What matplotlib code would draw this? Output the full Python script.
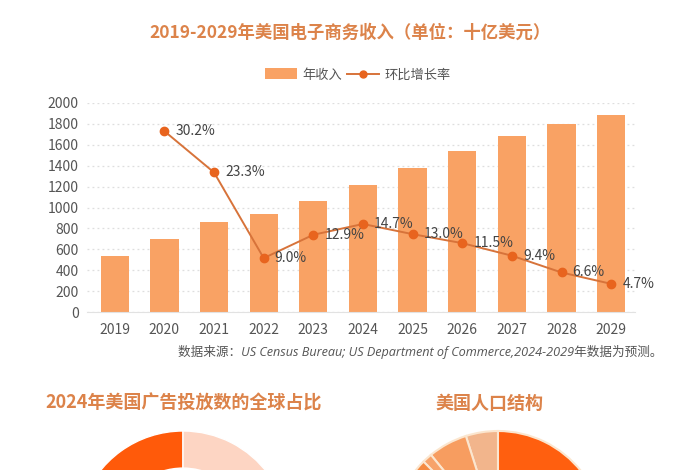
import matplotlib
matplotlib.use("Agg")
import matplotlib.pyplot as plt
from matplotlib.patches import Patch
from matplotlib.lines import Line2D

plt.rcParams['font.family'] = ['Noto Sans CJK SC', 'DejaVu Sans']

# ---- data ----
years = ['2019', '2020', '2021', '2022', '2023', '2024', '2025', '2026', '2027', '2028', '2029']
revenue = [535, 700, 865, 942, 1060, 1215, 1378, 1540, 1685, 1800, 1882]
growth_years = ['2020', '2021', '2022', '2023', '2024', '2025', '2026', '2027', '2028', '2029']
growth = [30.2, 23.3, 9.0, 12.9, 14.7, 13.0, 11.5, 9.4, 6.6, 4.7]
y_ticks = [0, 200, 400, 600, 800, 1000, 1200, 1400, 1600, 1800, 2000]

ad_labels = ['美国', '其他']
ad_share = [40, 60]
pop_labels = ['混血', '亚裔', '其他', '非裔', '西班牙裔', '白人']
pop_share = [4.9, 6.0, 1.5, 12.1, 17.7, 57.8]

# ---- style ----
BAR = '#F9A264'
LINE = '#D7733A'
MARK = '#E8641E'
TITLE = '#DC834A'
TXT = '#555555'

W, H = 700, 470
fig = plt.figure(figsize=(7, 4.7), dpi=100)
fig.patch.set_facecolor('white')

def fx(px):
    return px / W

def fy(py):
    return 1 - py / H

# main axes
left, right, top, bottom = 87, 635, 103, 312
ax = fig.add_axes([fx(left), fy(bottom), fx(right - left), (bottom - top) / H])
x = list(range(len(years)))
ax.bar(x, revenue, width=0.57, color=BAR, zorder=2)
ax.set_ylim(0, 2000)
ax.set_xlim(-0.56, 10.48)
ax.set_yticks(y_ticks)
ax.set_xticks(x)
ax.set_xticklabels(years)
ax.tick_params(axis='both', length=0, labelsize=10, colors=TXT)
ax.tick_params(axis='x', pad=8)
ax.tick_params(axis='y', pad=6)
for s in ['top', 'right', 'left']:
    ax.spines[s].set_visible(False)
ax.spines['bottom'].set_color('#e2e2e2')
ax.yaxis.grid(True, linestyle=(0, (1.5, 2.5)), color='#dedede', linewidth=0.9, zorder=0)
ax.set_axisbelow(True)

ax2 = ax.twinx()
gx = [years.index(g) for g in growth_years]
ax2.plot(gx, growth, color=LINE, linewidth=1.4, marker='o', markersize=6,
         markerfacecolor=MARK, markeredgecolor=MARK, zorder=3)
ax2.set_ylim(0, 2000 / 57.3)
ax2.set_yticks([])
for s in ax2.spines.values():
    s.set_visible(False)
for xi, g in zip(gx, growth):
    ax2.annotate(f'{g:.1f}%', (xi, g), xytext=(8, 0), textcoords='offset points',
                 ha='left', va='center', fontsize=10, color='#444444')

# title
fig.text(0.5, fy(33), '2019-2029年美国电子商务收入（单位：十亿美元）', ha='center', va='center',
         fontsize=12.5, color=TITLE, fontweight='bold')

# legend
handles = [Patch(facecolor=BAR, edgecolor='none'),
           Line2D([0], [0], color=LINE, marker='o', markersize=5, markerfacecolor=MARK,
                  markeredgecolor=MARK, linewidth=1.4)]
fig.legend(handles, ['年收入', '环比增长率'], loc='center', bbox_to_anchor=(fx(358), fy(75)),
           ncol=2, frameon=False, fontsize=9.5, handlelength=2.4, handleheight=0.9,
           columnspacing=0.4, handletextpad=0.4, labelcolor=TXT)

# source
fig.text(fx(662), fy(352), '数据来源：US Census Bureau; US Department of Commerce,2024-2029年数据为预测。',
         ha='right', va='center', fontsize=9.1, color='#555555', style='italic',
         family=['Open Sans', 'Noto Sans CJK SC', 'DejaVu Sans'])

# bottom titles
fig.text(fx(184), fy(403), '2024年美国广告投放数的全球占比', ha='center', va='center',
         fontsize=13, color=TITLE, fontweight='bold')
fig.text(fx(489), fy(403), '美国人口结构', ha='center', va='center',
         fontsize=13, color=TITLE, fontweight='bold')

R = 106
# left donut
cx, cy = 183, 431 + R
axp1 = fig.add_axes([fx(cx - R), fy(cy + R), 2 * R / W, 2 * R / H])
axp1.pie(ad_share, colors=['#FF5A0A', '#FDD5C3'], startangle=90, counterclock=True,
         radius=1, wedgeprops=dict(width=0.35, edgecolor='white', linewidth=1))
axp1.set_xlim(-1, 1)
axp1.set_ylim(-1, 1)
axp1.set_aspect('auto')
axp1.axis('off')

# right pie
cx2, cy2 = 498, 431 + R
axp2 = fig.add_axes([fx(cx2 - R), fy(cy2 + R), 2 * R / W, 2 * R / H])
axp2.pie(pop_share, colors=['#F2B58C', '#F79D60', '#F7A36A', '#F58A40', '#F7A870', '#FF5F0F'],
         startangle=90, counterclock=True, radius=1,
         wedgeprops=dict(edgecolor='#FBE6CF', linewidth=1.5))
axp2.set_xlim(-1, 1)
axp2.set_ylim(-1, 1)
axp2.set_aspect('auto')
axp2.axis('off')

fig.savefig('out.png', dpi=100, facecolor='white')
